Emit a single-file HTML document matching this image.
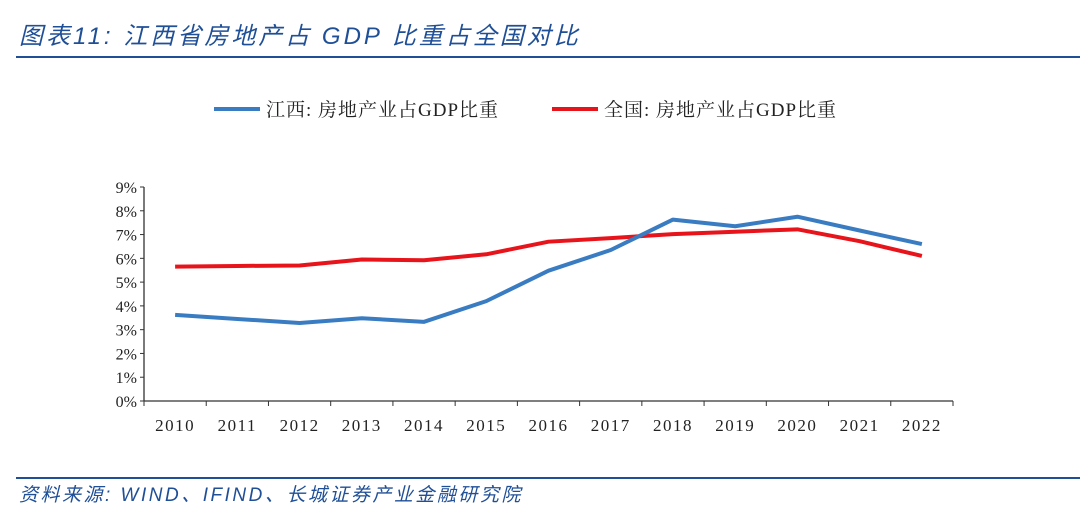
<!DOCTYPE html>
<html><head><meta charset="utf-8"><style>
body{margin:0;width:1080px;height:501px;background:#fff;overflow:hidden;position:relative;font-family:"Liberation Serif","Noto Serif CJK SC",serif}
.title{position:absolute;left:19px;top:16px;font-family:"Liberation Sans","Noto Sans CJK SC",sans-serif;font-style:italic;font-size:24px;letter-spacing:3px;color:#1f4f96;white-space:nowrap}
.rule{position:absolute;left:16px;width:1064px;height:2px;background:#1f4f96}
.src{position:absolute;left:19px;top:480px;font-family:"Liberation Sans","Noto Sans CJK SC",sans-serif;font-style:italic;font-size:19px;letter-spacing:2.5px;color:#1f4f96;white-space:nowrap}
</style></head><body>
<div class="title">图表11:  江西省房地产占 GDP 比重占全国对比</div>
<div class="rule" style="top:56px"></div>
<div class="rule" style="top:477px"></div>
<div class="src">资料来源:  WIND、IFIND、长城证券产业金融研究院</div>
<svg id="chart" width="1080" height="501" style="position:absolute;left:0;top:0"></svg>
<script>
const categories=["2010","2011","2012","2013","2014","2015","2016","2017","2018","2019","2020","2021","2022"];
const jiangxiValues=[3.62,3.45,3.28,3.48,3.33,4.2,5.48,6.35,7.63,7.35,7.75,7.17,6.6];
const nationalValues=[5.65,5.68,5.7,5.95,5.92,6.17,6.7,6.85,7.02,7.12,7.22,6.72,6.1];
const yTicks=[0,1,2,3,4,5,6,7,8,9];
const NS="http://www.w3.org/2000/svg";
const svg=document.getElementById('chart');
const x0=144,x1=953,y0=401,y9=187;
const step=(x1-x0)/categories.length;
const xs=i=>x0+step*(i+0.5);
const ys=v=>y0-(v/9)*(y0-y9);
function mk(t,a){const e=document.createElementNS(NS,t);for(const k in a)e.setAttribute(k,a[k]);svg.appendChild(e);return e;}
let ax=mk('line',{x1:x0,y1:y9,x2:x0,y2:y0,stroke:'#333','stroke-width':1.3});


let bx=mk('line',{x1:x0,y1:y0,x2:x1,y2:y0,stroke:'#333','stroke-width':1.3});


yTicks.forEach(v=>{
  const y=ys(v);
  mk('line',{x1:x0-4,y1:y,x2:x0,y2:y,stroke:'#333'});
  const t=mk('text',{x:x0-7,y:y+6,'text-anchor':'end','font-size':16,fill:'#222'});
  t.textContent=v+'%';
  
  
});
for(let i=0;i<=categories.length;i++){mk('line',{x1:x0+step*i,y1:y0,x2:x0+step*i,y2:y0+5,stroke:'#333'});}
categories.forEach((c,i)=>{
  const t=mk('text',{x:xs(i),y:431,'text-anchor':'middle','font-size':17,fill:'#222','letter-spacing':1.5});
  t.textContent=c;
  
  
});
function series(vals,color,name){
  const p=mk('polyline',{points:vals.map((v,i)=>xs(i)+','+ys(v)).join(' '),fill:'none',stroke:color,'stroke-width':4,'stroke-linejoin':'round'});
  
  
}
series(nationalValues,'#e8141b','national-line');
series(jiangxiValues,'#3a7cc2','jiangxi-line');
function legend(x,color,label,name){
  const l=mk('line',{x1:x,y1:109,x2:x+46,y2:109,stroke:color,'stroke-width':4});
  
  
  const t=mk('text',{x:x+52,y:116,'font-size':19,fill:'#222','letter-spacing':1});
  t.textContent=label;
  
  
}
legend(214,'#3a7cc2','江西: 房地产业占GDP比重','legend-jiangxi');
legend(552,'#e8141b','全国: 房地产业占GDP比重','legend-national');
</script>
</body></html>
